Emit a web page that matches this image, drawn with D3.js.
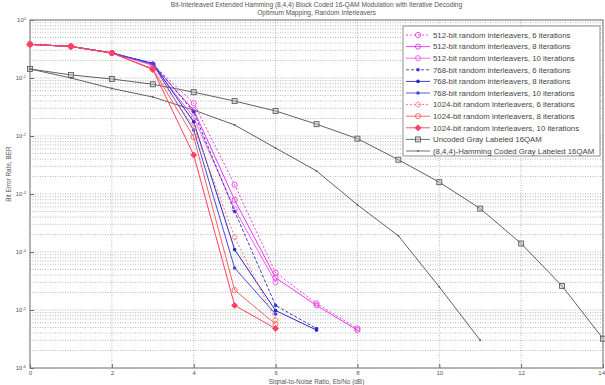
<!DOCTYPE html>
<html>
<head>
<meta charset="utf-8">
<script src="https://cdn.jsdelivr.net/npm/d3@7"></script>
<style>
  body { margin: 0; background: #fff; }
  svg { display: block; font-family: "Liberation Sans", Arial, sans-serif; }
</style>
</head>
<body>
<svg width="605" height="385"></svg>
<script>
// Eb/No values (dB), one per index of each BER array
var snrDb = [0, 1, 2, 3, 4, 5, 6, 7, 8, 9, 10, 11, 12, 13, 14];

var ber512_6  = [0.38, 0.35, 0.27, 0.17, 0.037, 1.44e-3, 4.4e-5, 1.3e-5, 4.8e-6];
var ber512_8  = [0.38, 0.35, 0.27, 0.168, 0.028, 7.9e-4, 3.6e-5, 1.2e-5, 4.5e-6];
var ber512_10 = [0.38, 0.35, 0.27, 0.165, 0.021, 5.5e-4, 3.0e-5];
var ber768_6  = [0.38, 0.35, 0.27, 0.18, 0.026, 5.0e-4, 1.2e-5, 4.8e-6];
var ber768_8  = [0.38, 0.35, 0.27, 0.178, 0.0175, 1.1e-4, 9.8e-6, 4.5e-6];
var ber768_10 = [0.38, 0.35, 0.27, 0.175, 0.0127, 5.3e-5, 8.5e-6];
var ber1024_6  = [0.38, 0.35, 0.27, 0.145, 0.0144, 1.8e-4, 6.7e-6];
var ber1024_8  = [0.38, 0.35, 0.27, 0.143, 0.0096, 2.2e-5, 5.7e-6];
var ber1024_10 = [0.38, 0.35, 0.27, 0.14, 0.0047, 1.2e-5, 4.8e-6];
var berUncoded = [0.143, 0.113, 0.096, 0.078, 0.057, 0.040, 0.027, 0.016, 0.009, 0.0039, 0.0016, 5.6e-4, 1.4e-4, 2.6e-5, 3.2e-6];
var berHamming = [0.143, 0.10, 0.066, 0.047, 0.028, 0.0155, 0.0062, 0.0025, 6.5e-4, 1.9e-4, 2.5e-5, 3.0e-6];

var seriesNames = [
  "512-bit random interleavers, 6 iterations",
  "512-bit random interleavers, 8 iterations",
  "512-bit random interleavers, 10 iterations",
  "768-bit random interleavers, 6 iterations",
  "768-bit random interleavers, 8 iterations",
  "768-bit random interleavers, 10 iterations",
  "1024-bit random interleavers, 6 iterations",
  "1024-bit random interleavers, 8 iterations",
  "1024-bit random interleavers, 10 iterations",
  "Uncoded Gray Labeled 16QAM",
  "(8,4,4)-Hamming Coded Gray Labeled 16QAM"
];
var seriesData = [ber512_6, ber512_8, ber512_10, ber768_6, ber768_8, ber768_10,
                  ber1024_6, ber1024_8, ber1024_10, berUncoded, berHamming];
var xTicks = [0, 2, 4, 6, 8, 10, 12, 14];
var yDecades = [0, -1, -2, -3, -4, -5, -6];

var titleLines = ["Bit-Interleaved Extended Hamming (8,4,4) Block Coded 16-QAM Modulation with Iterative Decoding",
                  "Optimum Mapping, Random Interleavers"];

// styles per series: color, dash, marker
var styles = [
  {c: "#f040e0", dash: "2,2", m: "circle"},
  {c: "#e838e8", dash: null,  m: "circle"},
  {c: "#f060f0", dash: null,  m: "circle"},
  {c: "#3838d0", dash: "3,2", m: "dot"},
  {c: "#2828c0", dash: null,  m: "dot"},
  {c: "#4848e0", dash: null,  m: "dot"},
  {c: "#ff7070", dash: "2,2", m: "diamond"},
  {c: "#ff6060", dash: null,  m: "circle"},
  {c: "#ff4060", dash: null,  m: "fdiamond"},
  {c: "#606060", dash: null,  m: "square"},
  {c: "#606060", dash: null,  m: "tiny"}
];

var svg = d3.select("svg"),
    margin = {top: 20, right: 2, bottom: 17, left: 30},
    width = +svg.attr("width") - margin.left - margin.right,
    height = +svg.attr("height") - margin.top - margin.bottom;

svg.append("rect").attr("width", 605).attr("height", 385).attr("fill", "#fff");

var g = svg.append("g").attr("transform", "translate(" + margin.left + "," + margin.top + ")");

var x = d3.scaleLinear().domain([0, 14]).range([0, width]);
var y = d3.scaleLog().domain([1e-6, 1]).range([height, 0]);

// grid
var minorY = [];
yDecades.forEach(function(e) {
  for (var k = 1; k < 10; k++) {
    var v = k * Math.pow(10, e);
    if (v >= 1e-6 && v <= 1) minorY.push(v);
  }
});
g.append("g").selectAll("line").data(minorY).enter().append("line")
  .attr("x1", 0).attr("x2", width)
  .attr("y1", function(d) { return y(d); }).attr("y2", function(d) { return y(d); })
  .attr("stroke", "#8a8a8a").attr("stroke-width", 0.6).attr("stroke-dasharray", "1,1.5");
g.append("g").selectAll("line").data(xTicks).enter().append("line")
  .attr("x1", function(d) { return x(d); }).attr("x2", function(d) { return x(d); })
  .attr("y1", 0).attr("y2", height)
  .attr("stroke", "#8a8a8a").attr("stroke-width", 0.6).attr("stroke-dasharray", "1,1.5");

// axes
var xAxis = g.append("g")
  .attr("transform", "translate(0," + height + ")")
  .call(d3.axisBottom(x).tickValues(xTicks).tickSize(-4).tickPadding(3));
xAxis.selectAll("text").attr("font-size", 6).attr("fill", "#555");
xAxis.selectAll("text").filter(function(d) { return d === 14; }).attr("text-anchor", "end").attr("dx", "0.25em");

var yAxis = g.append("g")
  .call(d3.axisLeft(y).tickValues(yDecades.map(function(e) { return Math.pow(10, e); })).tickSize(-4).tickPadding(4).tickFormat(""));
yAxis.selectAll(".tick").append("text")
  .attr("x", -4).attr("dy", "0.3em").attr("text-anchor", "end")
  .attr("font-size", 6).attr("fill", "#555")
  .each(function(d) {
    var t = d3.select(this);
    t.append("tspan").text("10");
    t.append("tspan").attr("dy", "-0.5em").attr("font-size", 4).text(Math.round(Math.log10(d)));
  });

g.selectAll(".domain").remove();
g.selectAll(".tick line").attr("stroke", "#666");
g.append("rect").attr("width", width).attr("height", height)
  .attr("fill", "none").attr("stroke", "#777").attr("stroke-width", 1);

// lines
var line = d3.line()
  .x(function(d) { return x(d.x); })
  .y(function(d) { return y(d.y); });

function pts(arr) {
  return arr.map(function(v, i) { return {x: snrDb[i], y: v}; });
}

function drawMarker(sel, st, cx, cy) {
  if (st.m === "circle") {
    sel.append("circle").attr("cx", cx).attr("cy", cy).attr("r", 2.6)
      .attr("fill", "none").attr("stroke", st.c).attr("stroke-width", 0.9);
  } else if (st.m === "dot") {
    sel.append("circle").attr("cx", cx).attr("cy", cy).attr("r", 1.8).attr("fill", st.c);
  } else if (st.m === "diamond" || st.m === "fdiamond") {
    sel.append("path").attr("d", "M" + cx + "," + (cy - 3) + "L" + (cx + 3) + "," + cy + "L" + cx + "," + (cy + 3) + "L" + (cx - 3) + "," + cy + "Z")
      .attr("fill", st.m === "fdiamond" ? st.c : "none").attr("stroke", st.c).attr("stroke-width", 0.9);
  } else if (st.m === "square") {
    sel.append("rect").attr("x", cx - 2.5).attr("y", cy - 2.5).attr("width", 5).attr("height", 5)
      .attr("fill", "#bbb").attr("fill-opacity", 0.5).attr("stroke", st.c).attr("stroke-width", 0.9);
  } else if (st.m === "tiny") {
    sel.append("circle").attr("cx", cx).attr("cy", cy).attr("r", 1).attr("fill", st.c);
  }
}

// draw black curves first, then coloured ones on top
var order = [9, 10, 0, 1, 2, 3, 4, 5, 6, 7, 8];
order.forEach(function(i) {
  var st = styles[i];
  var data = pts(seriesData[i]);
  g.append("path").datum(data)
    .attr("fill", "none").attr("stroke", st.c).attr("stroke-width", 1)
    .attr("stroke-dasharray", st.dash).attr("d", line);
  var mg = g.append("g");
  data.forEach(function(d) { drawMarker(mg, st, x(d.x), y(d.y)); });
});

// titles
titleLines.forEach(function(t, i) {
  svg.append("text").attr("x", margin.left + width / 2).attr("y", 7 + i * 8)
    .attr("text-anchor", "middle").attr("font-size", 6.6).attr("fill", "#555").text(t);
});
svg.append("text").attr("x", margin.left + width / 2).attr("y", 384)
  .attr("text-anchor", "middle").attr("font-size", 6.4).attr("fill", "#555")
  .text("Signal-to-Noise Ratio, Eb/No (dB)");
svg.append("text").attr("transform", "translate(11," + (margin.top + height / 2 - 20) + ") rotate(-90)")
  .attr("text-anchor", "middle").attr("font-size", 6.4).attr("fill", "#555")
  .text("Bit Error Rate, BER");

// legend
var lg = svg.append("g").attr("transform", "translate(403,26)");
lg.append("rect").attr("width", 197).attr("height", 130)
  .attr("fill", "#fff").attr("stroke", "#777").attr("stroke-width", 0.8);
seriesNames.forEach(function(name, i) {
  var st = styles[i];
  var ly = 9 + i * 11.6;
  lg.append("line").attr("x1", 3).attr("x2", 27).attr("y1", ly).attr("y2", ly)
    .attr("stroke", st.c).attr("stroke-width", 0.9).attr("stroke-dasharray", st.dash);
  drawMarker(lg, st, 15, ly);
  lg.append("text").attr("x", 30).attr("y", ly).attr("dy", "0.35em")
    .attr("font-size", 7.8).attr("fill", "#444").text(name);
});
</script>
</body>
</html>
